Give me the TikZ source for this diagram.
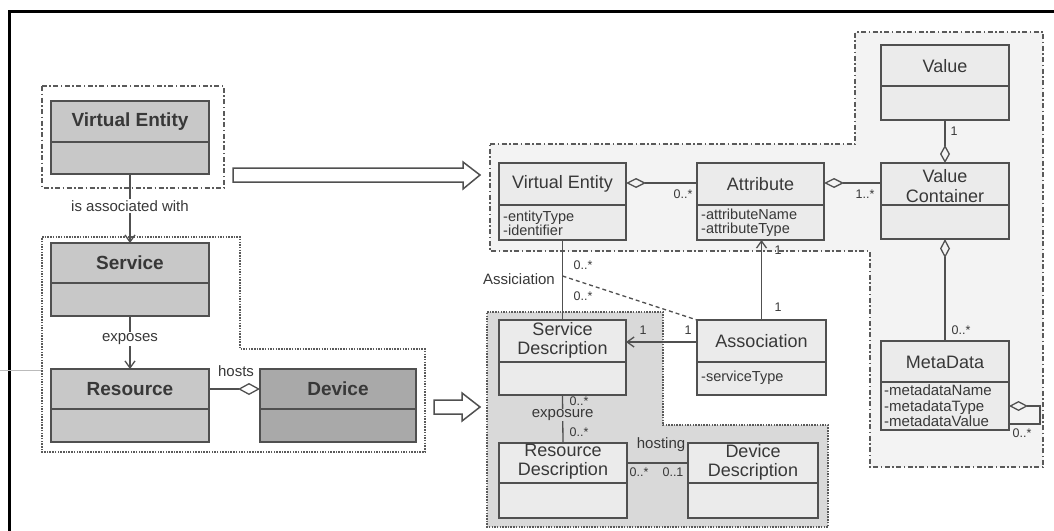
\documentclass[tikz,border=0pt]{standalone}
\usepackage{fontspec}
\setmainfont{Liberation Sans}
\usetikzlibrary{arrows.meta}
\definecolor{lfill}{HTML}{C8C8C8}
\definecolor{dfill}{HTML}{A9A9A9}
\definecolor{rfill}{HTML}{EBEBEB}
\definecolor{upfill}{HTML}{F3F3F3}
\definecolor{lowfill}{HTML}{D9D9D9}
\definecolor{edge}{HTML}{505050}
\definecolor{txt}{HTML}{383838}
\definecolor{regedge}{HTML}{5A5A5A}
\definecolor{faint}{HTML}{BBBBBB}
\tikzset{
  lbox/.style={draw=edge, fill=lfill, line width=1.8pt, inner sep=0pt, outer sep=0pt},
  dbox/.style={lbox, fill=dfill},
  rbox/.style={draw=edge, fill=rfill, line width=1.4pt, inner sep=0pt, outer sep=0pt},
  ldiv/.style={draw=edge, line width=1.6pt},
  rdiv/.style={draw=edge, line width=1.2pt},
  ltitle/.style={font=\fontsize{19}{21}\selectfont\bfseries, text=txt, inner sep=0pt},
  rtitle/.style={font=\fontsize{18}{19}\selectfont, text=txt, align=center, inner sep=0pt},
  attrtxt/.style={font=\fontsize{14.5}{14}\selectfont, text=txt, align=left, inner sep=0pt, anchor=west},
  mdattr/.style={font=\fontsize{15}{15.5}\selectfont, text=txt, align=left, inner sep=0pt, anchor=west},
  mult/.style={font=\fontsize{12.5}{12.5}\selectfont, text=txt, inner sep=0pt},
  lbl/.style={font=\fontsize{15}{15}\selectfont, text=txt, inner sep=1.5pt},
  conn/.style={draw=edge, line width=1.3pt},
  openarr/.style={-{Straight Barb[length=7pt,width=10pt]}},
  dashdotreg/.style={draw=regedge, line width=1.5pt, dash pattern=on 5pt off 2.5pt on 1.5pt off 2.5pt},
  dotreg/.style={draw=regedge, line width=1.5pt, dash pattern=on 1.5pt off 1.2pt},
  bigarrow/.style={draw=edge, fill=white, line width=1.5pt, line join=miter},
}
\newcommand{\umlbox}[8]{%
  \node[#1, anchor=north west, minimum width={#6-#4}, minimum height={#7-#5}] (#3) at (#4,#5) {};
  \draw[#2] (#4,#8) -- (#6,#8);}
\begin{document}
\begin{tikzpicture}[x=1pt,y=-1pt]
\useasboundingbox (0,0) rectangle (1054,530);
\clip (0,0) rectangle (1054,530);
% frame
\draw[line width=3.5pt, black] (9.5,540) -- (9.5,11.5) -- (1060,11.5);
\draw[faint, line width=0.8pt] (0,370) -- (42,370);
% regions
\draw[dashdotreg, fill=white] (42,86) rectangle (224,188);
\draw[dotreg, fill=white] (42,237) -- (240,237) -- (240,349) -- (425,349) -- (425,452) -- (42,452) -- cycle;
\draw[dashdotreg, fill=upfill] (490,144) -- (855,144) -- (855,32) -- (1043,32) -- (1043,467) -- (870,467) -- (870,251) -- (490,251) -- cycle;
\draw[dotreg, fill=lowfill] (487,312) -- (663,312) -- (663,425) -- (828,425) -- (828,527) -- (487,527) -- cycle;
% big hollow arrows
\draw[bigarrow] (233,168) -- (463,168) -- (463,162) -- (480,175) -- (463,189) -- (463,182) -- (233,182) -- cycle;
\draw[bigarrow] (434,400) -- (462,400) -- (462,393) -- (480,407) -- (462,421) -- (462,414) -- (434,414) -- cycle;
% left boxes
\umlbox{lbox}{ldiv}{VEl}{51}{101}{209}{174}{142}
\umlbox{lbox}{ldiv}{Svc}{51}{243}{209}{316}{283}
\umlbox{lbox}{ldiv}{Res}{51}{369}{209}{442}{409}
\umlbox{dbox}{ldiv}{Dev}{260}{369}{416}{442}{409}
\node[ltitle] at (130,122) {Virtual Entity};
\node[ltitle] at (130,263) {Service};
\node[ltitle] at (130,389) {Resource};
\node[ltitle] at (338,389) {Device};
% right boxes
\umlbox{rbox}{rdiv}{VEr}{499}{163}{626}{240}{205}
\umlbox{rbox}{rdiv}{Attr}{697}{163}{824}{240}{205}
\umlbox{rbox}{rdiv}{Val}{881}{45}{1009}{120}{86}
\umlbox{rbox}{rdiv}{VC}{881}{163}{1009}{239}{205}
\umlbox{rbox}{rdiv}{Assoc}{697}{320}{826}{395}{362}
\umlbox{rbox}{rdiv}{MD}{881}{341}{1009}{430}{382}
\umlbox{rbox}{rdiv}{SD}{499}{320}{626}{395}{362}
\umlbox{rbox}{rdiv}{RD}{499}{443}{627}{518}{483}
\umlbox{rbox}{rdiv}{DD}{688}{443}{818}{518}{483}
\node[rtitle] at (562.5,184) {Virtual Entity};
\node[attrtxt, align=left] at (503,223) {-entityType\\-identifier};
\node[rtitle] at (760.5,184) {Attribute};
\node[attrtxt] at (701,223) {-attributeName\\-attributeType};
\node[rtitle] at (945,66) {Value};
\node[rtitle, font=\fontsize{18}{20}\selectfont] at (945,186) {Value\\Container};
\node[rtitle] at (761.5,341) {Association};
\node[attrtxt] at (701,378) {-serviceType};
\node[rtitle] at (945,362) {MetaData};
\node[mdattr] at (884,406) {-metadataName\\-metadataType\\-metadataValue};
\node[rtitle] at (562.5,340) {Service\\Description};
\node[rtitle] at (563,462) {Resource\\Description};
\node[rtitle] at (753,462) {Device\\Description};
% left connectors
\draw[conn, openarr] (VEl.south) -- node[lbl, fill=white, pos=0.46] {is associated with} (Svc.north);
\draw[conn, openarr] (Svc.south) -- node[lbl, fill=white, pos=0.43] {exposes} (Res.north);
\draw[conn, -{Diamond[open,length=22pt,width=12pt]}] (Res.east |- 0,389) -- (Dev.west |- 0,389);
\node[lbl] at (236,371) {hosts};
% right connectors
\draw[conn, {Diamond[open,length=20pt,width=10pt]}-] (VEr.east |- 0,183) -- (Attr.west |- 0,183);
\node[mult] at (683,194) {0..*};
\draw[conn, {Diamond[open,length=20pt,width=10pt]}-] (Attr.east |- 0,183) -- (VC.west |- 0,183);
\node[mult] at (865,194) {1..*};
\draw[conn, -{Diamond[open,length=18pt,width=10pt]}] (Val.south) -- (VC.north);
\node[mult] at (954,131) {1};
\draw[conn, {Diamond[open,length=19pt,width=10pt]}-] (VC.south) -- (MD.north);
\node[mult] at (961,330) {0..*};
\coordinate (mdA) at (1009,406);
\coordinate (mdB) at (1009,424);
\draw[conn, {Diamond[open,length=19pt,width=10pt]}-] (mdA) -- ++(31,0) |- (mdB);
\node[mult] at (1022,433) {0..*};
\draw[conn] (VEr.south) -- (SD.north);
\node[mult] at (583,265) {0..*};
\node[mult] at (583,296) {0..*};
\node[lbl, anchor=east, inner sep=0pt] at (555,279) {Assiciation};
\coordinate (assocpt) at (562.5,276);
\draw[conn, dashed, dash pattern=on 4pt off 3pt] (assocpt) -- (Assoc.north west);
\draw[conn, openarr] (Assoc.north) -- (Assoc.north |- Attr.south);
\node[mult] at (778,250) {1};
\node[mult] at (778,307) {1};
\draw[conn, openarr] (Assoc.west |- 0,342) -- (SD.east |- 0,342);
\node[mult] at (643,330) {1};
\node[mult] at (688,330) {1};
\draw[conn] (SD.south) -- node[lbl, fill=lowfill, inner sep=0.5pt, pos=0.42] {exposure} (RD.north);
\node[mult] at (579,401) {0..*};
\node[mult] at (579,432) {0..*};
\draw[conn] (RD.east |- 0,463) -- (DD.west |- 0,463);
\node[lbl] at (661,445) {hosting};
\node[mult] at (639,472) {0..*};
\node[mult] at (673,472) {0..1};
\end{tikzpicture}
\end{document}
